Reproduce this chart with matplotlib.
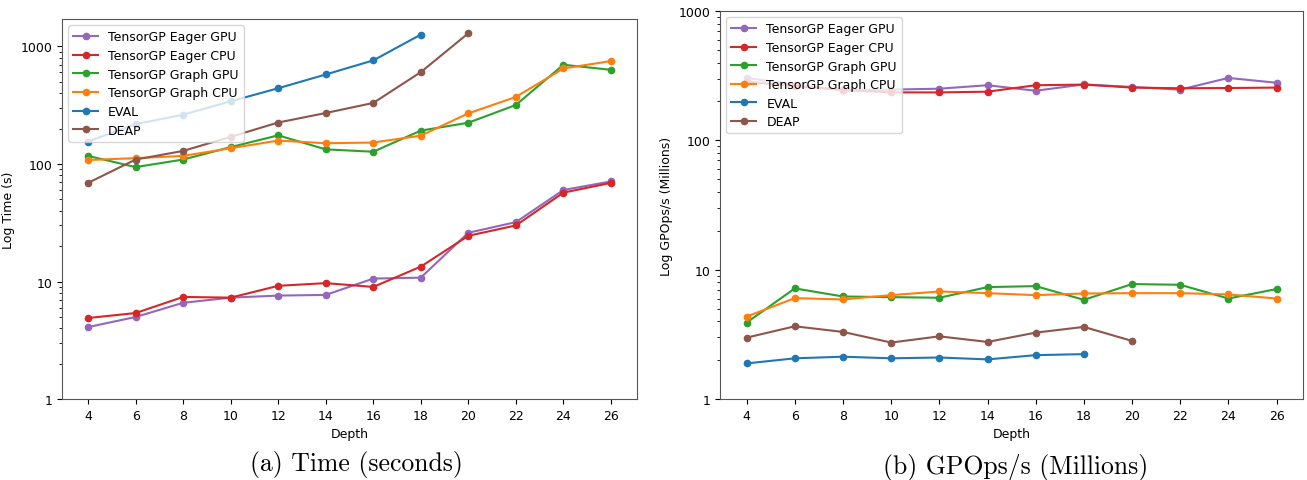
import matplotlib
matplotlib.use("Agg")
import matplotlib.pyplot as plt
import matplotlib.ticker as mticker

# ─── Data ─────────────────────────────────────────────────────────────────────

depth = [4, 6, 8, 10, 12, 14, 16, 18, 20, 22, 24, 26]

# (a) time in seconds
time_eager_gpu = [4.1, 5.0, 6.6, 7.3, 7.6, 7.7, 10.6, 10.8, 26, 32, 60, 71]
time_eager_cpu = [4.9, 5.4, 7.4, 7.3, 9.2, 9.7, 9.0, 13.4, 24.5, 30, 57, 69]
time_graph_gpu = [117, 94, 109, 139, 175, 133, 127, 192, 224, 317, 697, 631]
time_graph_cpu = [108, 112, 117, 136, 158, 150, 152, 174, 269, 371, 648, 749]
time_eval = [155, 218, 262, 341, 440, 576, 759, 1257]
time_deap = [69, 109, 129, 170, 225, 271, 330, 603, 1291]

# (b) GPOps/s in millions
ops_eager_gpu = [304, 270, 244, 247, 251, 267, 242, 271, 259, 247, 304, 279]
ops_eager_cpu = [285, 262, 246, 235, 235, 238, 267, 270, 256, 253, 254, 256]
ops_graph_gpu = [3.91, 7.18, 6.22, 6.15, 6.08, 7.35, 7.48, 5.86, 7.76, 7.66, 6.0, 7.1]
ops_graph_cpu = [4.35, 6.04, 5.90, 6.37, 6.80, 6.60, 6.37, 6.56, 6.6, 6.6, 6.45, 6.0]
ops_eval = [1.89, 2.07, 2.13, 2.07, 2.10, 2.03, 2.19, 2.23]
ops_deap = [2.99, 3.66, 3.31, 2.74, 3.06, 2.77, 3.27, 3.62, 2.82]

LABELS = ["TensorGP Eager GPU", "TensorGP Eager CPU", "TensorGP Graph GPU",
          "TensorGP Graph CPU", "EVAL", "DEAP"]
COLORS = ["#9467bd", "#d62728", "#2ca02c", "#ff7f0e", "#1f77b4", "#8c564b"]


def draw(ax, series, ylabel, ylim):
    for ys, label, color in zip(series, LABELS, COLORS):
        ax.plot(depth[:len(ys)], ys, color=color, marker="o", ms=4.5,
                lw=1.5, label=label)
    ax.set_yscale("log")
    ax.set_ylim(*ylim)
    ax.set_xlim(2.9, 27.1)
    ax.set_xticks(depth)
    ax.yaxis.set_major_formatter(mticker.ScalarFormatter())
    ax.yaxis.set_minor_formatter(mticker.NullFormatter())
    ax.set_xlabel("Depth", fontsize=9)
    ax.set_ylabel(ylabel, fontsize=9)
    ax.tick_params(labelsize=9)
    for s in ax.spines.values():
        s.set_color("#555555")
    ax.legend(loc="upper left", fontsize=9, framealpha=0.8,
              edgecolor="#cccccc", handlelength=2.0, borderpad=0.4,
              labelspacing=0.45)


fig = plt.figure(figsize=(13.07, 4.81), dpi=100)
ax1 = fig.add_axes([0.0474, 0.168, 0.4400, 0.790])
ax2 = fig.add_axes([0.5510, 0.168, 0.4460, 0.807])

draw(ax1, [time_eager_gpu, time_eager_cpu, time_graph_gpu, time_graph_cpu,
           time_eval, time_deap], "Log Time (s)", (1, 1700))
draw(ax2, [ops_eager_gpu, ops_eager_cpu, ops_graph_gpu, ops_graph_cpu,
           ops_eval, ops_deap], "Log GPOps/s (Millions)", (1, 1000))

fig.text(0.273, 0.034, "(a) Time (seconds)", ha="center", va="center",
         fontsize=18.5, family="cmr10")
fig.text(0.777, 0.029, "(b) GPOps/s (Millions)", ha="center", va="center",
         fontsize=18.5, family="cmr10")

fig.savefig("out.png", dpi=100)
